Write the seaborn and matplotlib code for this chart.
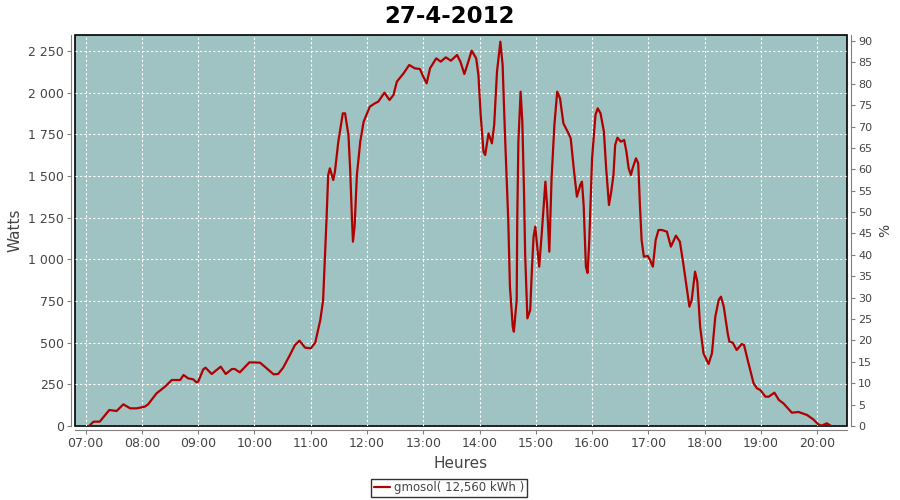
import pandas as pd
import matplotlib
matplotlib.use("Agg")
import matplotlib.pyplot as plt
import seaborn as sns
from matplotlib.ticker import FuncFormatter, MultipleLocator

# heure (decimale) et puissance (W)
heures = [7.06, 7.14, 7.25, 7.42, 7.55, 7.67, 7.79, 7.91, 8.05, 8.11, 8.26, 8.41, 8.53, 8.68,
          8.74, 8.82, 8.91, 8.97, 9.00, 9.09, 9.13, 9.24, 9.40, 9.49, 9.60, 9.65, 9.74, 9.91,
          10.10, 10.34, 10.42, 10.51, 10.63, 10.72, 10.80, 10.90, 11.00, 11.08, 11.17, 11.22,
          11.25, 11.28, 11.31, 11.34, 11.40, 11.43, 11.49, 11.57, 11.61, 11.67, 11.70, 11.73,
          11.75, 11.78, 11.82, 11.88, 11.94, 12.05, 12.14, 12.20, 12.31, 12.40, 12.47, 12.53,
          12.65, 12.75, 12.85, 12.94, 13.00, 13.06, 13.12, 13.23, 13.31, 13.40, 13.49, 13.60,
          13.66, 13.73, 13.80, 13.86, 13.94, 13.98, 14.02, 14.07, 14.10, 14.16, 14.22, 14.26,
          14.31, 14.37, 14.41, 14.45, 14.48, 14.51, 14.54, 14.59, 14.61, 14.66, 14.67, 14.69,
          14.73, 14.76, 14.79, 14.81, 14.85, 14.90, 14.93, 14.96, 14.99, 15.03, 15.06, 15.11,
          15.17, 15.20, 15.24, 15.28, 15.33, 15.38, 15.43, 15.49, 15.58, 15.62, 15.68, 15.73,
          15.79, 15.82, 15.85, 15.89, 15.92, 15.95, 16.00, 16.06, 16.10, 16.15, 16.21, 16.25,
          16.30, 16.34, 16.38, 16.41, 16.45, 16.51, 16.57, 16.61, 16.65, 16.69, 16.72, 16.78,
          16.82, 16.85, 16.88, 16.92, 16.99, 17.03, 17.08, 17.13, 17.18, 17.24, 17.33, 17.40,
          17.49, 17.56, 17.62, 17.68, 17.73, 17.77, 17.83, 17.87, 17.92, 17.98, 18.07, 18.13,
          18.19, 18.25, 18.29, 18.34, 18.41, 18.44, 18.50, 18.57, 18.66, 18.70, 18.78, 18.87,
          18.93, 18.99, 19.08, 19.14, 19.24, 19.32, 19.40, 19.55, 19.67, 19.82, 19.93, 20.02,
          20.08, 20.17, 20.24]
watts = [0, 26, 26, 96, 90, 130, 106, 106, 116, 130, 196, 236, 276, 276,
         306, 286, 280, 262, 266, 340, 350, 312, 356, 312, 342, 342, 322, 382,
         380, 310, 312, 350, 426, 486, 512, 470, 466, 500, 636, 756,
         996, 1236, 1506, 1546, 1476, 1526, 1706, 1876, 1876, 1746, 1546, 1266,
         1106, 1200, 1506, 1706, 1826, 1916, 1936, 1946, 2000, 1956, 1986, 2066,
         2116, 2166, 2146, 2142, 2096, 2056, 2146, 2206, 2186, 2212, 2192, 2226,
         2186, 2112, 2186, 2252, 2206, 2106, 1866, 1646, 1626, 1756, 1696, 1806,
         2126, 2306, 2166, 1766, 1506, 1236, 836, 596, 566, 756, 1236, 1706,
         2006, 1826, 1406, 1036, 646, 696, 936, 1136, 1196, 1056, 956, 1176,
         1466, 1326, 1046, 1486, 1806, 2006, 1966, 1816, 1756, 1726, 1526, 1376,
         1446, 1466, 1326, 956, 918, 1116, 1606, 1866, 1906, 1876, 1766, 1546,
         1326, 1406, 1506, 1686, 1730, 1706, 1716, 1646, 1546, 1506, 1546, 1606,
         1576, 1326, 1116, 1016, 1020, 996, 956, 1116, 1176, 1176, 1166, 1076,
         1142, 1106, 976, 836, 716, 756, 926, 866, 596, 436, 372, 436,
         656, 756, 776, 716, 556, 506, 500, 456, 492, 486, 376, 256,
         226, 216, 176, 176, 200, 156, 136, 80, 84, 66, 40, 10,
         2, 16, 2]

titre = "27-4-2012"
serie = "gmosol( 12,560 kWh )"

df = pd.DataFrame({"heure": heures, "watts": watts})

sns.set_style("white")
fig = plt.figure(figsize=(9, 5), dpi=100)
ax = fig.add_axes([0.0833, 0.148, 0.8578, 0.782])

sns.lineplot(data=df, x="heure", y="watts", ax=ax, color="#b00000", linewidth=1.6, label=serie)

ax.set_facecolor("#9fc3c2")
ax.patch.set_edgecolor("black")
ax.patch.set_linewidth(1.2)
ax.set_xlim(6.81, 20.53)
ax.set_ylim(0, 2346)
ax.xaxis.set_major_locator(MultipleLocator(1))
ax.yaxis.set_major_locator(MultipleLocator(250))
ax.xaxis.set_major_formatter(FuncFormatter(lambda v, p: "%02d:00" % int(round(v))))
ax.yaxis.set_major_formatter(FuncFormatter(lambda v, p: "{:,}".format(int(v)).replace(",", " ")))
ax.grid(True, color="white", linestyle=(0, (2, 2)), linewidth=0.8)

for s in ["top", "right"]:
    ax.spines[s].set_visible(False)
for s in ["left", "bottom"]:
    ax.spines[s].set_position(("outward", 3))
    ax.spines[s].set_color("gray")
ax.tick_params(axis="both", which="major", direction="out", length=3, color="gray",
               labelsize=9, labelcolor="#444444", left=True, bottom=True, pad=2)

ax.set_xlabel("Heures", fontsize=11, color="#444444")
ax.set_ylabel("Watts", fontsize=11, color="#444444")

ax2 = ax.twinx()
ax2.set_ylim(0, 91.4)
ax2.yaxis.set_major_locator(MultipleLocator(5))
for s in ["top", "left", "bottom"]:
    ax2.spines[s].set_visible(False)
ax2.spines["right"].set_position(("outward", 3))
ax2.spines["right"].set_color("gray")
ax2.tick_params(axis="y", direction="out", length=3, color="gray", labelsize=8,
                labelcolor="#444444", right=True, pad=2)
ax2.set_ylabel("%", fontsize=10, color="#444444")
ax2.grid(False)

ax.get_legend().remove()
handles, labels = ax.get_legend_handles_labels()
leg = fig.legend(handles, labels, loc="center", bbox_to_anchor=(0.4989, 0.024),
                 frameon=True, fancybox=False, edgecolor="black", fontsize=8.5,
                 handlelength=1.4, handletextpad=0.3, borderpad=0.25, labelcolor="#444444")
leg.get_frame().set_linewidth(1)

fig.suptitle(titre, fontsize=16.5, fontweight="bold", color="black", y=0.99)

fig.savefig("out.png", dpi=100)
